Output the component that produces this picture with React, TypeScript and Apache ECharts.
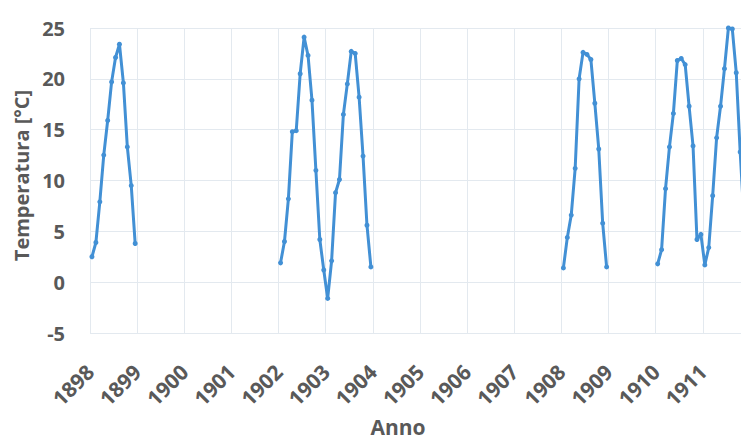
import React, { useEffect, useRef } from "react";
import * as echarts from "echarts";

// Monthly mean temperatures (°C), Jan..Dec; null = year not recorded
const years = [1898, 1899, 1900, 1901, 1902, 1903, 1904, 1905, 1906, 1907, 1908, 1909, 1910, 1911];
const t1898 = [2.5, 3.9, 7.9, 12.5, 15.9, 19.7, 22.1, 23.4, 19.6, 13.3, 9.5, 3.8];
const t1902 = [1.9, 4.0, 8.2, 14.8, 14.9, 20.5, 24.1, 22.3, 17.9, 11.0, 4.2, 1.2];
const t1903 = [-1.6, 2.1, 8.8, 10.1, 16.5, 19.5, 22.7, 22.5, 18.2, 12.4, 5.6, 1.5];
const t1908 = [1.4, 4.4, 6.6, 11.2, 20.0, 22.6, 22.4, 21.9, 17.6, 13.1, 5.8, 1.5];
const t1910 = [1.8, 3.2, 9.2, 13.3, 16.6, 21.8, 22.0, 21.4, 17.3, 13.4, 4.2, 4.7];
const t1911 = [1.7, 3.4, 8.5, 14.2, 17.3, 21.0, 25.0, 24.9, 20.6, 12.8, 6.0, 2.0];
const yearlyTemps: (number[] | null)[] = [
  t1898, null, null, null, t1902, t1903, null, null, null, null, t1908, null, t1910, t1911,
];
const yTicks = { min: -5, max: 25, step: 5 };

const TEXT = "#595959";
const LINE = "#4290d5";
const GRID = "#e3e9ef";
const FONT = "'Open Sans', 'DejaVu Sans', sans-serif";

function buildPoints() {
  const pts: (number | string)[][] = [];
  years.forEach((y, i) => {
    const temps = yearlyTemps[i];
    if (!temps) {
      pts.push([y + 0.5, "-"]);
      return;
    }
    temps.forEach((v, m) => pts.push([y + (m + 0.5) / 12, v]));
  });
  return pts;
}

export default function App() {
  const ref = useRef<HTMLDivElement>(null);

  useEffect(() => {
    if (!ref.current) return;
    const chart = echarts.init(ref.current, null, { renderer: "svg" });
    chart.setOption({
      animation: false,
      backgroundColor: "#ffffff",
      grid: { left: 90, right: 0, top: 28, bottom: 109 },
      xAxis: {
        type: "value",
        min: years[0],
        max: years[years.length - 1] + 1,
        interval: 1,
        axisLine: { show: false },
        axisTick: { show: false },
        splitLine: { show: true, lineStyle: { color: GRID, width: 1 } },
        axisLabel: {
          rotate: 45,
          margin: 35,
          color: TEXT,
          fontFamily: FONT,
          fontWeight: "bold",
          fontSize: 21,
          showMaxLabel: false,
          formatter: (v: number) => String(v),
        },
      },
      yAxis: {
        type: "value",
        min: yTicks.min,
        max: yTicks.max,
        interval: yTicks.step,
        axisLine: { show: false },
        axisTick: { show: false },
        splitLine: { show: true, lineStyle: { color: GRID, width: 1 } },
        axisLabel: {
          margin: 25,
          color: TEXT,
          fontFamily: FONT,
          fontWeight: "bold",
          fontSize: 20,
        },
        name: "Temperatura [°C]",
        nameLocation: "middle",
        nameRotate: 90,
        nameGap: 57,
        nameTextStyle: {
          color: TEXT,
          fontFamily: FONT,
          fontWeight: "bold",
          fontSize: 20,
          padding: [0, 0, 0, 10],
        },
      },
      graphic: [
        {
          type: "text",
          x: 398,
          y: 427,
          style: {
            text: "Anno",
            fill: TEXT,
            font: `bold 21px ${FONT}`,
            textAlign: "center",
            textVerticalAlign: "middle",
          },
        },
      ],
      series: [
        {
          type: "line",
          data: buildPoints(),
          connectNulls: false,
          symbol: "circle",
          symbolSize: 5,
          showSymbol: true,
          lineStyle: { color: LINE, width: 3 },
          itemStyle: { color: LINE },
        },
      ],
    });
    return () => chart.dispose();
  }, []);

  return (
    <div style={{ position: "absolute", left: 0, top: 0, width: 741, height: 442, overflow: "hidden", background: "#fff" }}>
      <div ref={ref} style={{ width: 750, height: 442 }} />
    </div>
  );
}
